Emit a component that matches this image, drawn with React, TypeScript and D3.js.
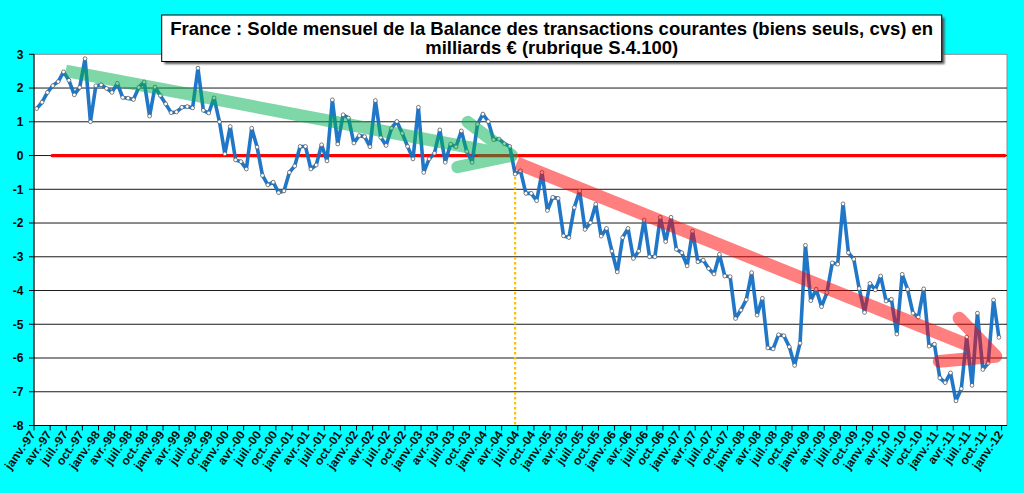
import React from "react";
import * as d3 from "d3";

const MONTHS = ["janv.", "avr.", "juil.", "oct."];
const START_YEAR = 1997;
const N_CATEGORIES = 181; // janv.-97 .. janv.-12
const TICK_LABELS: string[] = d3.range(61).map((k) => {
  const y = START_YEAR + Math.floor(k / 4);
  return `${MONTHS[k % 4]}-${String(y % 100).padStart(2, "0")}`;
});
const Y_TICKS = d3.range(-8, 4);

const VALUES: number[] = [
  1.39, 1.58, 1.87, 2.07, 2.19, 2.48, 2.23, 1.8, 2.02, 2.87, 1.0, 2.07,
  2.1, 1.99, 1.87, 2.14, 1.72, 1.7, 1.66, 2.02, 2.18, 1.17, 2.03, 1.78,
  1.53, 1.27, 1.29, 1.43, 1.45, 1.41, 2.59, 1.34, 1.26, 1.71, 1.0, 0.05,
  0.86, -0.13, -0.18, -0.4, 0.81, 0.25, -0.59, -0.87, -0.79, -1.1, -1.05, -0.5,
  -0.31, 0.27, 0.27, -0.4, -0.28, 0.32, -0.16, 1.65, 0.34, 1.21, 1.11, 0.37,
  0.59, 0.56, 0.26, 1.63, 0.54, 0.3, 0.81, 1.01, 0.66, 0.27, -0.1, 1.43,
  -0.5, -0.1, 0.07, 0.76, -0.2, 0.34, 0.26, 0.73, 0.12, -0.2, 0.93, 1.23,
  1.01, 0.47, 0.49, 0.35, 0.27, -0.55, -0.45, -1.12, -1.12, -1.34, -0.5, -1.63,
  -1.24, -1.27, -2.38, -2.43, -1.54, -1.05, -2.19, -1.99, -1.44, -2.39, -2.16, -2.83,
  -3.45, -2.43, -2.16, -3.05, -2.83, -1.91, -3.0, -3.0, -1.83, -2.55, -1.83, -2.78,
  -2.88, -3.27, -2.24, -3.15, -3.1, -3.35, -3.51, -2.93, -3.57, -3.59, -4.83, -4.58,
  -4.27, -3.47, -4.73, -4.23, -5.7, -5.73, -5.31, -5.34, -5.67, -6.22, -5.56, -2.66,
  -4.3, -3.96, -4.48, -4.06, -3.18, -3.22, -1.43, -2.88, -3.07, -3.94, -4.65, -3.79,
  -3.98, -3.57, -4.31, -4.26, -5.29, -3.52, -3.96, -4.67, -4.79, -3.95, -5.65, -5.59,
  -6.59, -6.73, -6.44, -7.27, -6.91, -5.38, -6.81, -4.67, -6.34, -6.15, -4.28, -5.39,
];

// annotation arrows in (category index, value) coordinates
const GREEN_MAIN: [number, number][] = [[5.4, 2.51], [88.4, 0.0]];
const GREEN_WINGS: [number, number][] = [[80.2, 0.99], [88.4, 0.0], [78.3, -0.34]];
const RED_MAIN: [number, number][] = [[89.3, -0.22], [178.4, -5.95]];
const RED_WINGS: [number, number][] = [[171.6, -4.82], [178.4, -5.95], [167.9, -6.1]];
const ZERO_LINE: [number, number] = [2.85, 180.1];
const BREAK_INDEX = 89;

const TITLE_1 = "France : Solde mensuel de la Balance des transactions courantes (biens seuls, cvs) en";
const TITLE_2 = "milliards € (rubrique S.4.100)";

export default function App() {
  const W = 1024, H = 493;
  const left = 34, right = 1007, top = 54.3, bottom = 425.5;
  const x = d3.scaleLinear().domain([-0.5, N_CATEGORIES - 0.5]).range([left, right]);
  const y = d3.scaleLinear().domain([-8, 3]).range([bottom, top]);
  const line = d3.line<number>().x((_, i) => x(i)).y((d) => y(d));
  const seg = d3.line<[number, number]>().x((d) => x(d[0])).y((d) => y(d[1]));
  const font = "'Liberation Sans', Arial, sans-serif";

  return (
    <svg width={W} height={H} style={{ position: "absolute", left: 0, top: 0 }} fontFamily={font}>
      <defs>
        <filter id="sh" x="-5%" y="-20%" width="110%" height="160%">
          <feGaussianBlur stdDeviation="1.2" />
        </filter>
      </defs>
      <rect x={0} y={0} width={W} height={H} fill="#00ffff" />
      <rect x={left} y={top} width={right - left} height={bottom - top} fill="#fff" stroke="#8c8c8c" strokeWidth={1} />
      {Y_TICKS.filter((t) => t > -8 && t < 3).map((t) => (
        <line key={t} x1={left} x2={right} y1={y(t)} y2={y(t)} stroke="#1a1a1a" strokeWidth={1} />
      ))}
      {/* axes */}
      <line x1={left} x2={left} y1={top} y2={bottom} stroke="#000" strokeWidth={1} />
      <line x1={left} x2={right} y1={bottom} y2={bottom} stroke="#000" strokeWidth={1} />
      {Y_TICKS.map((t) => (
        <g key={t}>
          <line x1={left - 5} x2={left} y1={y(t)} y2={y(t)} stroke="#000" />
          <text x={23.5} y={y(t)} dy="0.36em" textAnchor="end" fontSize={12} fontWeight="bold" fill="#000">
            {t}
          </text>
        </g>
      ))}
      {TICK_LABELS.map((lab, k) => {
        const xb = x(3 * k - 0.5);
        return (
          <g key={lab}>
            <line x1={xb} x2={xb} y1={bottom} y2={bottom + 5} stroke="#000" />
            <text
              transform={`translate(${xb + 2},${bottom + 9}) rotate(-55)`}
              textAnchor="end"
              fontSize={12}
              fontWeight="bold"
              fill="#0a0a0a"
            >
              {lab}
            </text>
          </g>
        );
      })}
      {/* zero line */}
      <line x1={x(ZERO_LINE[0])} x2={x(ZERO_LINE[1])} y1={y(0)} y2={y(0)} stroke="#ff0000" strokeWidth={3.2} strokeLinecap="round" />
      {/* break line */}
      <line x1={x(BREAK_INDEX)} x2={x(BREAK_INDEX)} y1={y(VALUES[BREAK_INDEX]) + 3} y2={bottom} stroke="#ffc000" strokeWidth={2.2} strokeDasharray="2.5,2.5" />
      {/* series */}
      <path d={line(VALUES) || ""} fill="none" stroke="#1470c4" strokeWidth={3.6} strokeLinejoin="round" strokeOpacity={0.95} />
      {VALUES.map((v, i) => (
        <circle key={i} cx={x(i)} cy={y(v)} r={1.9} fill="#fff" stroke="#555" strokeWidth={0.7} />
      ))}
      {/* arrows */}
      <g opacity={0.5}>
        <path d={seg(GREEN_MAIN) || ""} stroke="#00b050" strokeWidth={12.5} fill="none" strokeLinecap="butt" />
        <path d={seg(GREEN_WINGS) || ""} stroke="#00b050" strokeWidth={12.5} fill="none" strokeLinecap="round" strokeLinejoin="round" />
      </g>
      <g opacity={0.5}>
        <path d={seg(RED_MAIN) || ""} stroke="#ff0000" strokeWidth={13} fill="none" strokeLinecap="butt" />
        <path d={seg(RED_WINGS) || ""} stroke="#ff0000" strokeWidth={13} fill="none" strokeLinecap="round" strokeLinejoin="round" />
      </g>
      {/* title */}
      <rect x={164.5} y={17.5} width={780} height={46.5} fill="#555" filter="url(#sh)" />
      <rect x={161.7} y={15} width={780} height={46.5} fill="#fff" stroke="#000" strokeWidth={1} />
      <text x={551.7} y={34.5} textAnchor="middle" fontSize={18.5} fontWeight="bold" fill="#000">
        {TITLE_1}
      </text>
      <text x={551.7} y={54} textAnchor="middle" fontSize={18.5} fontWeight="bold" fill="#000">
        {TITLE_2}
      </text>
    </svg>
  );
}
